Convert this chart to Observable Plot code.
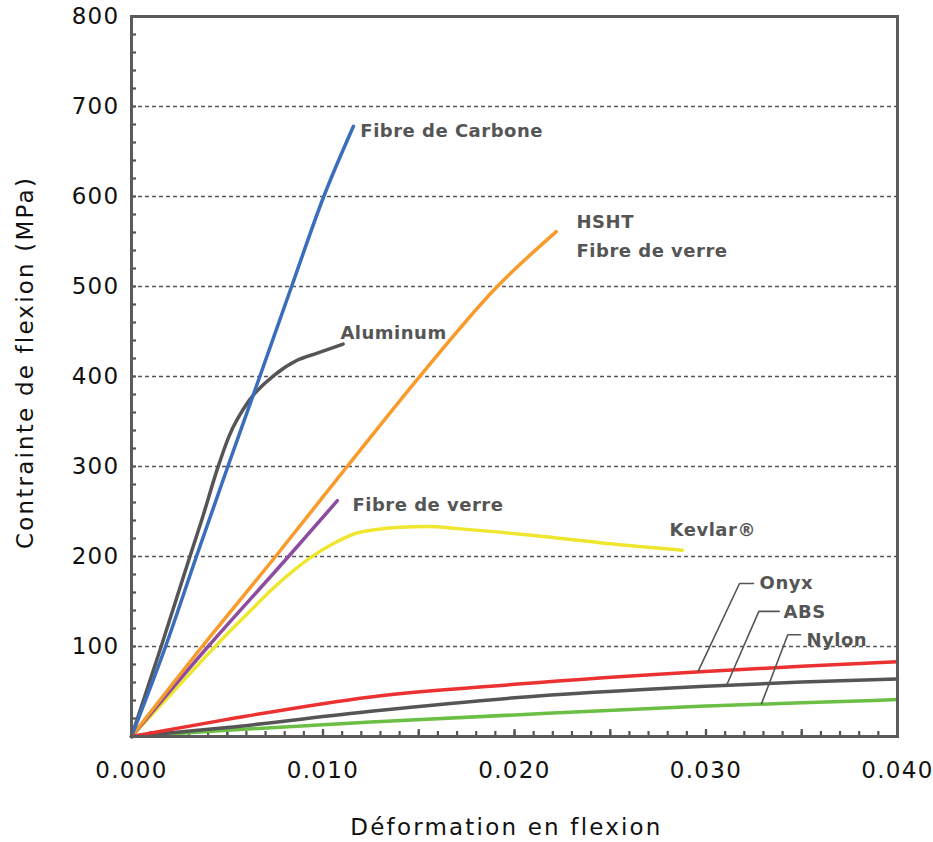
<!DOCTYPE html>
<html><head><meta charset="utf-8">
<script src="https://cdn.jsdelivr.net/npm/d3@7"></script>
<script src="https://cdn.jsdelivr.net/npm/@observablehq/plot@0.6"></script>
<style>body{margin:0;background:#fff;font-family:"DejaVu Sans",sans-serif}</style>
</head><body><div id="chart"></div>
<script>
// strain (x) / stress MPa (y)
const kevlar = [[0,0],[0.0021,48],[0.00482,110],[0.00604,136],[0.00726,162],[0.0095,201],[0.0106,215],[0.01161,225],[0.0128,230],[0.01405,232.6],[0.0155,233.3],[0.01718,230.7],[0.0219,221.5],[0.0255,213],[0.02876,207]];
const fibreVerre = [[0,0],[0.004,100],[0.0082,200],[0.01075,262]];
const hsht = [[0,0],[0.00369,100],[0.00752,200],[0.01126,300],[0.01509,401],[0.0191,500],[0.02218,561]];
const aluminum = [[0,0],[0.00155,100],[0.00305,200],[0.00366,240],[0.00451,299],[0.00508,333],[0.00613,373],[0.00743,401],[0.00865,418],[0.0097,426],[0.01105,436]];
const carbone = [[0,0],[0.00178,100],[0.00339,200],[0.00503,300],[0.0067,400],[0.00836,500],[0.01004,600],[0.01159,678]];
const nylon = [[0,0],[0.005,7],[0.0125,16],[0.02,24],[0.0297,33.5],[0.035,37.5],[0.04,41]];
const abs = [[0,0],[0.005,10],[0.0125,28],[0.02,43],[0.0297,55.5],[0.035,60.5],[0.04,64]];
const onyx = [[0,0],[0.005,19],[0.0125,44],[0.02,58],[0.0297,72],[0.035,78],[0.04,83]];

const seriesNames = ["Kevlar","FibreVerre","HSHT","Aluminum","Carbone","Nylon","ABS","Onyx"];
const seriesData = [kevlar, fibreVerre, hsht, aluminum, carbone, nylon, abs, onyx];
const seriesColors = ["#efe62f","#8e4c9f","#f99b2a","#555555","#3a6ebd","#6cbf45","#555555","#eb3131"];

const labelTexts = ["Fibre de Carbone","HSHT","Fibre de verre","Aluminum","Fibre de verre","Kevlar®","Onyx","ABS","Nylon"];
const labelX = [0.01195,0.02324,0.02324,0.01091,0.01154,0.0281,0.0328,0.03405,0.03525];
const labelY = [672,571,539,448,257,229,170,138,107];

const leaderOnyx = [[0.0296,73],[0.03175,170],[0.03248,170]];
const leaderABS = [[0.0311,58],[0.03276,139],[0.03382,139]];
const leaderNylon = [[0.0329,36.5],[0.03427,113],[0.03494,113]];

const xTicks = [0, 0.01, 0.02, 0.03, 0.04];
const yTicks = [100, 200, 300, 400, 500, 600, 700, 800];
const gridValues = [100, 200, 300, 400, 500, 600, 700];
const yMinorTicks = d3.range(20, 800, 20);
const xMinorTicks = d3.range(1, 40).map(i => i / 1000);
const xMidTicks = d3.range(1, 8).map(i => i * 5 / 1000);

const rows = seriesData.flatMap((arr, i) => arr.map(([x, y]) => ({x, y, s: seriesNames[i]})));
const leaders = [["Onyx", leaderOnyx], ["ABS", leaderABS], ["Nylon", leaderNylon]]
  .flatMap(([n, arr]) => arr.map(([x, y]) => ({x, y, n})));
const labels = labelTexts.map((t, i) => ({t, x: labelX[i], y: labelY[i]}));

const chart = Plot.plot({
  width: 933, height: 842,
  marginLeft: 131, marginRight: 36, marginTop: 16, marginBottom: 106,
  style: {fontFamily: "'DejaVu Sans', sans-serif", background: "#fff"},
  x: {domain: [0, 0.04]},
  y: {domain: [0, 800]},
  color: {domain: seriesNames, range: seriesColors},
  marks: [
    Plot.gridY(gridValues, {stroke: "#555", strokeOpacity: 1, strokeWidth: 1.4, strokeDasharray: "4,3"}),
    Plot.axisY(yTicks, {tickSize: 0, tickPadding: 12, fontSize: 23, fill: "#111", label: null, tickFormat: d => String(d)}),
    Plot.axisX(xTicks, {tickSize: 0, tickPadding: 25, fontSize: 23, fill: "#111", label: null, tickFormat: d3.format(".3f")}),
    // inner minor ticks
    Plot.ruleY(yMinorTicks, {y: d => d, x1: 0, x2: 0, insetRight: -5, stroke: "#555", strokeWidth: 2.2}),
    Plot.ruleX(xMinorTicks, {x: d => d, y1: 0, y2: 0, insetBottom: 5, stroke: "#555", strokeWidth: 2.2}),
    Plot.ruleX(xMidTicks, {x: d => d, y1: 0, y2: 0, insetBottom: 7, stroke: "#555", strokeWidth: 2.2}),
    Plot.line(rows, {x: "x", y: "y", z: "s", stroke: "s", strokeWidth: 3.5, curve: "monotone-x"}),
    Plot.line(leaders, {x: "x", y: "y", z: "n", stroke: "#555", strokeWidth: 1.6}),
    Plot.text(labels, {x: "x", y: "y", text: "t", textAnchor: "start", fontSize: 18, fontWeight: "bold", fill: "#555"}),
    Plot.frame({stroke: "#5b5b5b", strokeWidth: 3}),
    Plot.text(["Contrainte de flexion (MPa)"], {frameAnchor: "left", textAnchor: "middle", lineAnchor: "middle", dx: -106, dy: -14, rotate: -90, fontSize: 23, fill: "#111"}),
    Plot.text(["Déformation en flexion"], {frameAnchor: "bottom", textAnchor: "middle", lineAnchor: "middle", dy: 91, dx: -8, fontSize: 23, fill: "#111"})
  ]
});
document.getElementById("chart").appendChild(chart);
const svg = d3.select(chart);
svg.selectAll('g[aria-label="x-axis tick label"] text, g[aria-label="y-axis tick label"] text')
  .attr("letter-spacing", "1.3px");
svg.selectAll("text")
  .filter(function() { return this.textContent === "Contrainte de flexion (MPa)" || this.textContent === "Déformation en flexion"; })
  .attr("letter-spacing", "2.2px");
svg.selectAll("text")
  .filter(function() { return labelTexts.includes(this.textContent); })
  .attr("letter-spacing", "0.5px");
</script>
</body></html>
